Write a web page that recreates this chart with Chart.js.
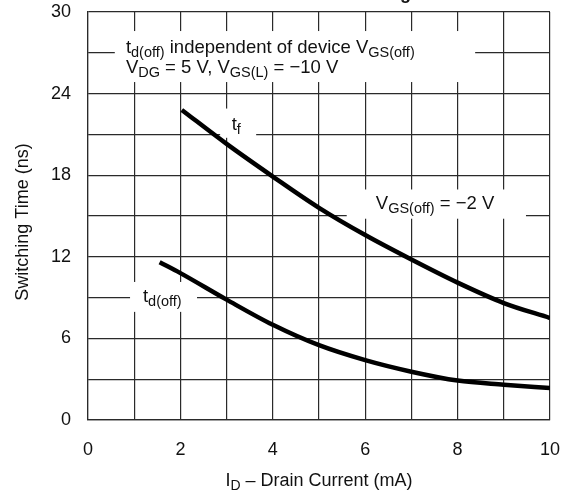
<!DOCTYPE html>
<html>
<head>
<meta charset="utf-8">
<script src="https://cdn.jsdelivr.net/npm/chart.js@4.4.1/dist/chart.umd.min.js"></script>
<style>
    body { margin: 0; background: #fff; }
    #wrap { width: 572px; height: 495px; }
</style>
</head>
<body>
<div id="wrap"><canvas id="chart" width="572" height="495"></canvas></div>
<script>
// Data (I_D in mA, times in ns)
const tfCurrent = [2.03, 3, 4, 5, 6, 7, 8, 9, 10];
const tfTime = [22.8, 20.3, 17.9, 15.6, 13.6, 11.8, 10.1, 8.6, 7.5];

const tdCurrent = [1.55, 2, 3, 4, 5, 6, 7, 8, 9, 10];
const tdTime = [11.6, 10.8, 8.85, 7.0, 5.5, 4.4, 3.55, 2.9, 2.6, 2.35];

const xTicks = [0, 2, 4, 6, 8, 10];
const yTicks = [0, 6, 12, 18, 24, 30];

const FONT = "'Liberation Sans', Arial, Helvetica, sans-serif";
const INK = '#111';
const GRID = '#2a2a2a';
const MAIN = 18.5, SUB = 14.5;

// white label boxes, in data units: [x1, x2, yTop, yBottom]
const boxes = [
    [0.58, 8.38, 28.6, 24.85],
    [2.86, 3.64, 22.9, 20.75],
    [0.91, 2.36, 10.15, 7.95],
    [5.6, 9.48, 16.95, 14.8]
];

// labels: x, y (baseline) in data units, runs of [text, isSub]
const labels = [
    { x: 0.82, y: 27.0, runs: [['t', 0], ['d(off)', 1], [' independent of device V', 0], ['GS(off)', 1]] },
    { x: 0.82, y: 25.5, runs: [['V', 0], ['DG', 1], [' = 5 V, V', 0], ['GS(L)', 1], [' = \u221210 V', 0]] },
    { x: 3.11, y: 21.3, runs: [['t', 0], ['f', 1]] },
    { x: 1.19, y: 8.7, runs: [['t', 0], ['d(off)', 1]] },
    { x: 6.23, y: 15.55, runs: [['V', 0], ['GS(off)', 1], [' = \u22122 V', 0]] }
];

function drawRuns(ctx, x, y, runs, size, subSize) {
    let cx = x;
    runs.forEach(([txt, sub]) => {
        ctx.font = (sub ? subSize : size) + 'px ' + FONT;
        ctx.fillText(txt, cx, sub ? y + 4 : y);
        cx += ctx.measureText(txt).width;
    });
    return cx - x;
}

function runsWidth(ctx, runs, size, subSize) {
    let w = 0;
    runs.forEach(([txt, sub]) => {
        ctx.font = (sub ? subSize : size) + 'px ' + FONT;
        w += ctx.measureText(txt).width;
    });
    return w;
}

const notes = {
    id: 'notes',
    beforeDatasetsDraw(chart) {
        const { ctx, scales: { x, y } } = chart;
        ctx.save();
        ctx.fillStyle = '#fff';
        boxes.forEach(b => {
            const x1 = x.getPixelForValue(b[0]), x2 = x.getPixelForValue(b[1]);
            const y1 = y.getPixelForValue(b[2]), y2 = y.getPixelForValue(b[3]);
            ctx.fillRect(x1, y1, x2 - x1, y2 - y1);
        });
        ctx.restore();
    },
    afterDatasetsDraw(chart) {
        const { ctx, scales: { x, y } } = chart;
        ctx.save();
        ctx.fillStyle = INK;
        ctx.textBaseline = 'alphabetic';
        ctx.textAlign = 'left';
        labels.forEach(l => {
            drawRuns(ctx, x.getPixelForValue(l.x), y.getPixelForValue(l.y), l.runs, MAIN, SUB);
        });
        ctx.restore();
    },
    afterDraw(chart) {
        const { ctx, chartArea } = chart;
        ctx.save();
        ctx.fillStyle = INK;
        ctx.textBaseline = 'alphabetic';

        // x axis title with subscript
        const xt = [['I', 0], ['D', 1], [' \u2013 Drain Current (mA)', 0]];
        const w = runsWidth(ctx, xt, 18, 14);
        const cx = (chartArea.left + chartArea.right) / 2;
        ctx.textAlign = 'left';
        drawRuns(ctx, cx - w / 2, 486, xt, 18, 14);

        // y axis title
        ctx.translate(28, (chartArea.top + chartArea.bottom) / 2 + 6);
        ctx.rotate(-Math.PI / 2);
        ctx.textAlign = 'center';
        ctx.font = '18px ' + FONT;
        ctx.fillText('Switching Time (ns)', 0, 0);
        ctx.restore();

        // chart title, cut off at the top edge of the picture
        ctx.save();
        ctx.fillStyle = INK;
        ctx.font = 'bold 18px ' + FONT;
        ctx.textAlign = 'right';
        ctx.fillText('Turn-Off Switching', 411, -1);
        ctx.restore();
    }
};

const curveStyle = {
    borderColor: '#000',
    borderWidth: 4.5,
    pointRadius: 0,
    fill: false,
    cubicInterpolationMode: 'monotone',
    borderCapStyle: 'butt'
};

new Chart(document.getElementById('chart'), {
    type: 'line',
    data: {
        datasets: [
            Object.assign({ label: 't_f', data: tfCurrent.map((v, i) => ({ x: v, y: tfTime[i] })) }, curveStyle),
            Object.assign({ label: 't_d(off)', data: tdCurrent.map((v, i) => ({ x: v, y: tdTime[i] })) }, curveStyle)
        ]
    },
    options: {
        responsive: false,
        animation: false,
        devicePixelRatio: 1,
        layout: { padding: { left: 0, top: 12, right: 22, bottom: 0 } },
        plugins: { legend: { display: false }, tooltip: { enabled: false } },
        scales: {
            x: {
                type: 'linear',
                min: 0, max: 10,
                afterFit: s => { s.height = 75; s.paddingLeft = 0; s.paddingRight = 0; },
                afterBuildTicks: s => { s.ticks = Array.from({ length: 11 }, (_, i) => ({ value: i })); },
                ticks: {
                    padding: 19,
                    color: INK,
                    font: { family: FONT, size: 18 },
                    maxRotation: 0,
                    autoSkip: false,
                    callback: v => xTicks.includes(v) ? String(v) : ''
                },
                grid: { color: GRID, lineWidth: 1.2, drawTicks: false },
                border: { color: GRID, width: 1.2 }
            },
            y: {
                min: 0, max: 30,
                afterFit: s => { s.width = 88; s.paddingTop = 0; s.paddingBottom = 0; },
                afterBuildTicks: s => { s.ticks = Array.from({ length: 11 }, (_, i) => ({ value: i * 3 })); },
                ticks: {
                    padding: 17,
                    color: INK,
                    font: { family: FONT, size: 18 },
                    autoSkip: false,
                    callback: v => yTicks.includes(v) ? String(v) : ''
                },
                grid: { color: GRID, lineWidth: 1.2, drawTicks: false },
                border: { color: GRID, width: 1.2 }
            }
        }
    },
    plugins: [notes]
});
</script>
</body>
</html>
